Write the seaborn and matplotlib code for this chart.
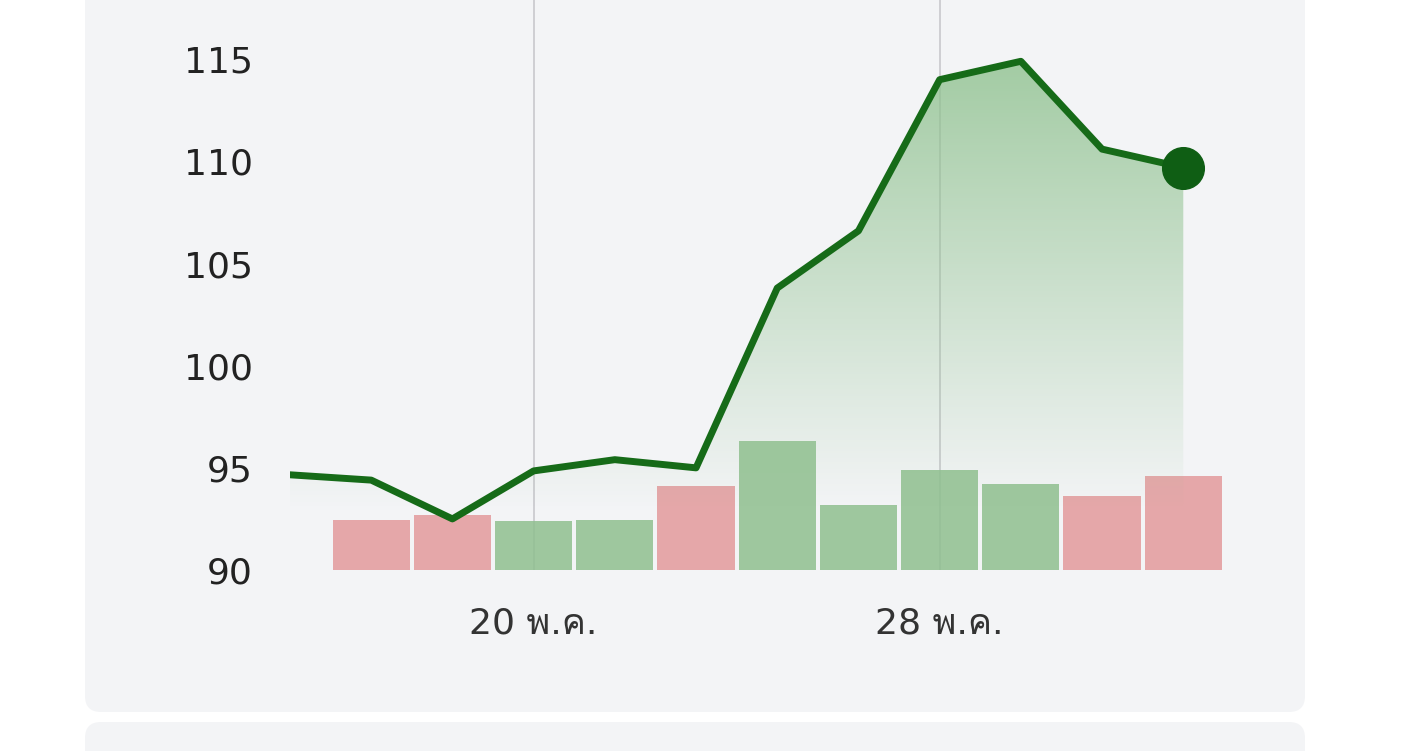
import matplotlib
matplotlib.use("Agg")
import matplotlib.pyplot as plt
import seaborn as sns
import numpy as np
from matplotlib.patches import FancyBboxPatch, Polygon
from matplotlib.colors import LinearSegmentedColormap
from matplotlib import font_manager
from matplotlib.ft2font import FT2Font

sns.set_theme(style="white")

thai_fams = []
for f in font_manager.fontManager.ttflist:
    try:
        cm = FT2Font(f.fname).get_charmap()
        if ord('พ') in cm and ord('ค') in cm and f.name not in thai_fams:
            thai_fams.append(f.name)
    except Exception:
        pass
plt.rcParams['font.family'] = ['DejaVu Sans'] + thai_fams[:1] + ['Noto Sans']

idx = list(range(12))
price = [94.66, 94.4, 92.5, 94.85, 95.4, 95.0, 103.8, 106.6, 114.0, 114.9, 110.6, 109.7]
bar_idx = list(range(1, 12))
bar_top = [92.45, 92.7, 92.4, 92.45, 94.1, 96.3, 93.2, 94.9, 94.2, 93.6, 94.6]
bar_up = [False, False, True, True, False, True, True, True, True, False, False]
tick_pos = [3, 8]
tick_labels = ["20 พ.ค.", "28 พ.ค."]
yticks = [90, 95, 100, 105, 110, 115]

W, H = 1424, 751
fig = plt.figure(figsize=(W/100, H/100), dpi=100)
fig.patch.set_facecolor("white")

bg = fig.add_axes([0, 0, 1, 1], zorder=-5)
bg.set_xlim(0, W); bg.set_ylim(H, 0); bg.axis("off")
bg.add_patch(FancyBboxPatch((85, -40), 1220, 752, boxstyle="round,pad=0,rounding_size=16",
                            fc="#f3f4f6", ec="none"))
bg.add_patch(FancyBboxPatch((85, 722), 1220, 80, boxstyle="round,pad=0,rounding_size=16",
                            fc="#f3f4f6", ec="none"))

ax = fig.add_axes([290/W, (H-570)/H, 942/W, 570/H])
ax.set_facecolor("none")

for t in tick_pos:
    ax.axvline(t, color="#c8c8cc", lw=1.2, zorder=1)

colors = ["#8fbf8f" if u else "#e39a9c" for u in bar_up]
ax.bar(bar_idx, [t - 90 for t in bar_top], bottom=90, width=0.95, color=colors, alpha=0.85, zorder=2, linewidth=0)

grad = np.linspace(0, 1, 256).reshape(-1, 1)
cmap = LinearSegmentedColormap.from_list("g", [(0.56, 0.76, 0.56, 0.0), (0.56, 0.76, 0.56, 0.8)])
im = ax.imshow(grad, extent=[0, 11, 93, 115], origin="lower", aspect="auto", cmap=cmap, zorder=3)
poly = Polygon([(0, 90)] + list(zip(idx, price)) + [(11, 90)], closed=True, transform=ax.transData)
im.set_clip_path(poly)
ax.set_xlim(0, 11.6)
ax.set_ylim(90, 117.9)

sns.lineplot(x=idx, y=price, ax=ax, color="#166b18", lw=5, zorder=4)
ax.scatter([idx[-1]], [price[-1]], s=900, color="#0f5e14", zorder=5)

ax.set_xticks(tick_pos)
ax.set_xticklabels(tick_labels, fontsize=26, color="#333333")
ax.set_yticks(yticks)
ax.set_yticklabels([str(v) for v in yticks], fontsize=26, color="#222222")
ax.tick_params(axis="x", length=0, pad=26)
ax.tick_params(axis="y", length=0, pad=27)
for s in ax.spines.values():
    s.set_visible(False)

fig.savefig("out.png", dpi=100)
